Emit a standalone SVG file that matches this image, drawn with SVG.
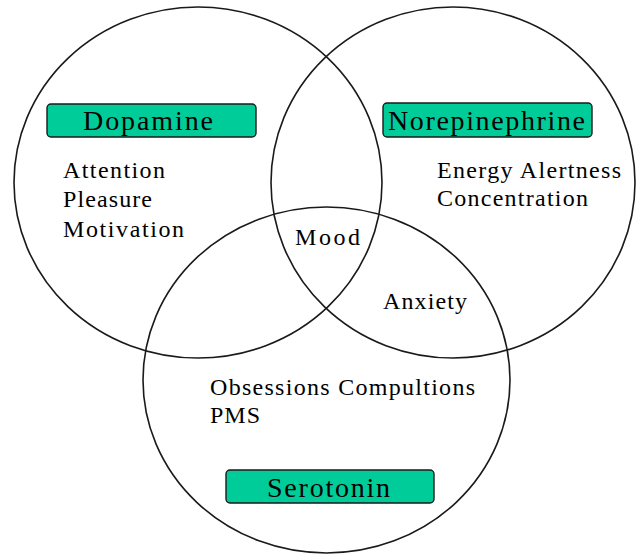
<svg xmlns="http://www.w3.org/2000/svg" width="637" height="554" viewBox="0 0 637 554">
  <style>
    .ring { fill: none; stroke: #1a1a1a; stroke-width: 1.6; }
    .box { fill: #00CC99; stroke: #1a1a1a; stroke-width: 1.4; }
    .lbl { font-family: "Liberation Serif", "Times New Roman", serif; font-size: 28px; fill: #000; }
    .txt { font-family: "Liberation Serif", "Times New Roman", serif; font-size: 24px; fill: #000; }
  </style>
  <rect x="0" y="0" width="637" height="554" fill="#ffffff"/>

  <g id="dopamine">
    <ellipse class="ring" cx="198" cy="182.5" rx="184" ry="175.5"/>
    <rect class="box" x="47" y="104" width="209" height="33" rx="4"/>
    <text class="lbl" x="83" y="130" textLength="130" lengthAdjust="spacing">Dopamine</text>
    <text class="txt" x="63" y="178" textLength="102" lengthAdjust="spacing">Attention</text>
    <text class="txt" x="63" y="207" textLength="89" lengthAdjust="spacing">Pleasure</text>
    <text class="txt" x="63" y="237" textLength="121" lengthAdjust="spacing">Motivation</text>
  </g>

  <g id="norepinephrine">
    <ellipse class="ring" cx="453" cy="182.5" rx="182" ry="175.5"/>
    <rect class="box" x="383" y="103" width="209" height="34" rx="4"/>
    <text class="lbl" x="388" y="130" textLength="197" lengthAdjust="spacing">Norepinephrine</text>
    <text class="txt" x="437" y="178" textLength="184" lengthAdjust="spacing">Energy Alertness</text>
    <text class="txt" x="437" y="206" textLength="151" lengthAdjust="spacing">Concentration</text>
  </g>

  <g id="serotonin">
    <ellipse class="ring" cx="326.5" cy="380" rx="183.5" ry="173"/>
    <rect class="box" x="226" y="470" width="208" height="33" rx="4"/>
    <text class="lbl" x="267" y="497" textLength="123" lengthAdjust="spacing">Serotonin</text>
    <text class="txt" x="210" y="395" textLength="265" lengthAdjust="spacing">Obsessions Compultions</text>
    <text class="txt" x="210" y="423" textLength="50" lengthAdjust="spacing">PMS</text>
  </g>

  <g id="mood">
    <text class="txt" x="295" y="245" textLength="65" lengthAdjust="spacing">Mood</text>
  </g>

  <g id="anxiety">
    <text class="txt" x="383" y="309" textLength="84" lengthAdjust="spacing">Anxiety</text>
  </g>
</svg>
